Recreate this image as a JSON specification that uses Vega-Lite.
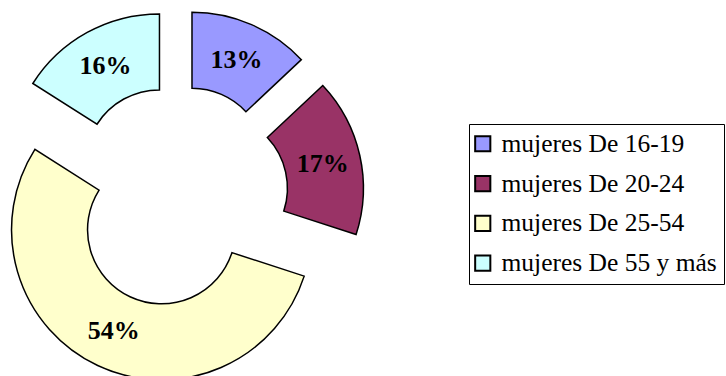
{
  "$schema": "https://vega.github.io/schema/vega-lite/v6.json",
  "width": 726,
  "height": 376,
  "padding": 0,
  "autosize": {"type": "none"},
  "background": "white",
  "config": {"view": {"stroke": null}},
  "data": {
    "values": [
      {"grupo": "mujeres De 16-19", "pct": 13},
      {"grupo": "mujeres De 20-24", "pct": 17},
      {"grupo": "mujeres De 25-54", "pct": 54},
      {"grupo": "mujeres De 55 y más", "pct": 16}
    ]
  },
  "transform": [
    {"stack": "pct", "groupby": [], "as": ["ini", "fin"]},
    {"calculate": "(datum.ini + datum.fin) / 2", "as": "medio"},
    {"calculate": "sin(datum.medio / 100 * 2 * PI)", "as": "dirX"},
    {"calculate": "cos(datum.medio / 100 * 2 * PI)", "as": "dirY"},
    {"calculate": "datum.pct + '%'", "as": "etiqueta"}
  ],
  "encoding": {
    "x": {"field": "dirX", "type": "quantitative", "scale": {"domain": [-1, 1], "range": [140.3, 214.3]}, "axis": null},
    "y": {"field": "dirY", "type": "quantitative", "scale": {"domain": [-1, 1], "range": [233.3, 159.3]}, "axis": null}
  },
  "layer": [
    {
      "mark": {"type": "arc", "radius": 150, "radius2": 74, "stroke": "black", "strokeWidth": 1.5},
      "encoding": {
        "theta": {"field": "ini", "type": "quantitative", "scale": {"domain": [0, 100]}, "stack": null},
        "theta2": {"field": "fin"},
        "color": {
          "field": "grupo",
          "type": "nominal",
          "sort": null,
          "scale": {
            "domain": ["mujeres De 16-19", "mujeres De 20-24", "mujeres De 25-54", "mujeres De 55 y más"],
            "range": ["#9999FF", "#993366", "#FFFFCC", "#CCFFFF"]
          },
          "legend": {
            "orient": "none",
            "legendX": 469,
            "legendY": 124,
            "title": null,
            "fillColor": "white",
            "strokeColor": "black",
            "padding": 7,
            "symbolType": "square",
            "symbolSize": 230,
            "symbolOffset": -6,
            "symbolStrokeColor": "black",
            "symbolStrokeWidth": 2,
            "symbolOpacity": 1,
            "labelFont": "Liberation Serif",
            "labelFontSize": 25.5,
            "labelLimit": 0,
            "labelColor": "black",
            "labelOffset": 6,
            "rowPadding": 12.8
          }
        }
      }
    },
    {
      "mark": {"type": "text", "radius": 112, "font": "Liberation Serif", "fontWeight": "bold", "fontSize": 26, "color": "black"},
      "encoding": {
        "theta": {"field": "medio", "type": "quantitative", "stack": null},
        "text": {"field": "etiqueta"}
      }
    }
  ]
}
